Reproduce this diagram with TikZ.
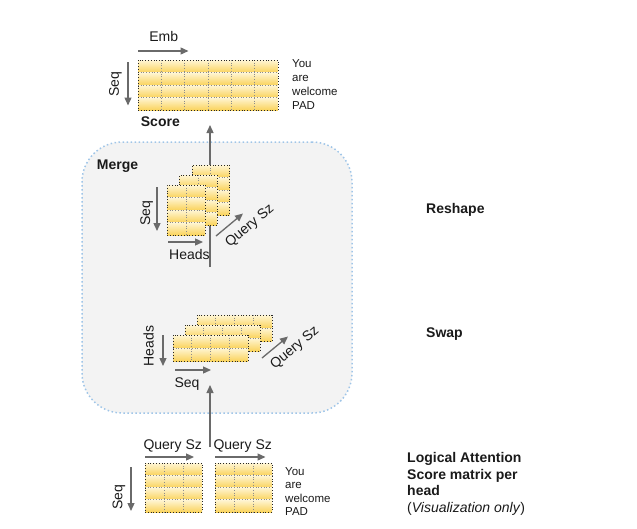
\documentclass[tikz,border=0pt]{standalone}
\usepackage{fontspec}
\setmainfont{Liberation Sans}
\usetikzlibrary{arrows.meta}
\definecolor{cellTop}{HTML}{FFF6D5}
\definecolor{cellBot}{HTML}{FAD35C}
\definecolor{arrowGray}{HTML}{6A6A6A}
\definecolor{mergeFill}{HTML}{F3F3F3}
\definecolor{mergeLine}{HTML}{9FC5E8}
\definecolor{txt}{HTML}{1A1A1A}
\tikzset{
  innerdots/.style={draw=black!45, dotted, line width=0.7pt},
  outerdots/.style={draw=black!85, dotted, line width=0.8pt, inner sep=0pt, outer sep=0pt},
  dimarrow/.style={draw=arrowGray, line width=1.3pt, -{Triangle[length=8pt,width=7pt]}},
  lbl/.style={font=\fontsize{14}{16}\selectfont, text=txt, inner sep=0pt},
  boldlbl/.style={font=\fontsize{14}{16}\selectfont\bfseries, text=txt, inner sep=0pt, anchor=base west},
  smalllbl/.style={font=\fontsize{11.5}{14}\selectfont, text=txt, inner sep=0pt, anchor=base west},
  mergebox/.style={draw=mergeLine, fill=mergeFill, line width=1.5pt, dash pattern=on 1.5pt off 2.5pt, rounded corners=40pt, inner sep=0pt, outer sep=0pt, anchor=north west},
}
\newcommand\mgrid[7]{% name, x, y, cols, rows, cw, rh
  \foreach \i in {1,...,#4}{\foreach \j in {1,...,#5}{
    \shade[top color=cellTop, bottom color=cellBot] ({#2+(\i-1)*#6},{#3+(\j-1)*#7}) rectangle ++(#6,#7);}}
  \pgfmathtruncatemacro\mgc{#4-1}
  \pgfmathtruncatemacro\mgr{#5-1}
  \foreach \i in {1,...,\mgc}{\draw[innerdots] ({#2+\i*#6},#3) -- ++(0,{#5*#7});}
  \foreach \j in {1,...,\mgr}{\draw[innerdots] (#2,{#3+\j*#7}) -- ++({#4*#6},0);}
  \node[outerdots, minimum width={#4*#6}, minimum height={#5*#7}, anchor=north west] (#1) at (#2,#3) {};
}
\begin{document}
\begin{tikzpicture}[x=1pt, y=-1pt]
\useasboundingbox (0,0) rectangle (637,528);

% Merge box
\node[mergebox, minimum width=270, minimum height=271] (merge) at (82,142) {};
\node[boldlbl] (mergelbl) at (96.7,169.3) {Merge};

% vertical connector from merged result to score (behind stacks)
\coordinate (reshapeOut) at (210,267);
\coordinate (scoreIn) at (210,125);
\draw[dimarrow] (reshapeOut) -- (scoreIn);

% ---- Score matrix (top)
\mgrid{score}{138}{60}{6}{4}{23.33}{12.5}
\coordinate (embA) at (138,51);
\coordinate (embB) at (188.5,51);
\draw[dimarrow] (embA) -- (embB);
\node[lbl, anchor=base] (emblbl) at (163.8,41.7) {Emb};
\coordinate (seqTA) at (128,62);
\coordinate (seqTB) at (128,105.5);
\draw[dimarrow] (seqTA) -- (seqTB);
\node[lbl, rotate=90] (seqTlbl) at (115.5,84.5) {Seq};
\node[boldlbl] (scorelbl) at (140.7,126) {Score};
\node[smalllbl] (tTop1) at (292,67.3) {You};
\node[smalllbl] (tTop2) at (292,81.3) {are};
\node[smalllbl] (tTop3) at (292,95.3) {welcome};
\node[smalllbl] (tTop4) at (292,109.3) {PAD};

% ---- Reshape stacks
\mgrid{rsBack}{192}{165}{2}{4}{18.75}{12.5}
\mgrid{rsMid}{179.5}{175}{2}{4}{18.75}{12.5}
\mgrid{rsFront}{167}{185}{2}{4}{19}{12.5}
\coordinate (rsSeqA) at (157,187);
\coordinate (rsSeqB) at (157,231);
\draw[dimarrow] (rsSeqA) -- (rsSeqB);
\node[lbl, rotate=90] (rsSeqlbl) at (146.7,213.3) {Seq};
\coordinate (rsHA) at (168,242);
\coordinate (rsHB) at (203,242);
\draw[dimarrow] (rsHA) -- (rsHB);
\node[lbl, anchor=base west] (rsHlbl) at (169,259.3) {Heads};
\coordinate (rsQA) at (216,236);
\coordinate (rsQB) at (243,213.5);
\draw[dimarrow] (rsQA) -- (rsQB);
\node[lbl, rotate=40] (rsQlbl) at (250,226) {Query Sz};

% ---- Swap stacks
\mgrid{swBack}{197}{315}{4}{2}{18.75}{13}
\mgrid{swMid}{185}{325}{4}{2}{18.75}{13}
\mgrid{swFront}{173}{335}{4}{2}{18.75}{13}
\coordinate (swHA) at (163,335);
\coordinate (swHB) at (163,366);
\draw[dimarrow] (swHA) -- (swHB);
\node[lbl, rotate=90] (swHlbl) at (148.5,346) {Heads};
\coordinate (swSA) at (175,370);
\coordinate (swSB) at (211,370);
\draw[dimarrow] (swSA) -- (swSB);
\node[lbl, anchor=base west] (swSlbl) at (174.3,387.3) {Seq};
\coordinate (swQA) at (262,358);
\coordinate (swQB) at (288,336.5);
\draw[dimarrow] (swQA) -- (swQB);
\node[lbl, rotate=40] (swQlbl) at (295,348) {Query Sz};

% connector from logical matrices into the swap
\coordinate (logicOut) at (210,447);
\coordinate (swapIn) at (210,385);
\draw[dimarrow] (logicOut) -- (swapIn);

% ---- Logical matrices (bottom)
\mgrid{logL}{145}{463}{3}{4}{19}{12.25}
\mgrid{logR}{215}{463}{3}{4}{19}{12.25}
\coordinate (qLA) at (145,457);
\coordinate (qLB) at (194,457);
\draw[dimarrow] (qLA) -- (qLB);
\coordinate (qRA) at (215,457);
\coordinate (qRB) at (265.5,457);
\draw[dimarrow] (qRA) -- (qRB);
\node[lbl, anchor=base west] (qLlbl) at (143.3,449.3) {Query Sz};
\node[lbl, anchor=base west] (qRlbl) at (213.3,449.3) {Query Sz};
\coordinate (bSeqA) at (131,467);
\coordinate (bSeqB) at (131,511);
\draw[dimarrow] (bSeqA) -- (bSeqB);
\node[lbl, rotate=90] (bSeqlbl) at (119,497) {Seq};
\node[smalllbl] (tBot1) at (285,475) {You};
\node[smalllbl] (tBot2) at (285,488.5) {are};
\node[smalllbl] (tBot3) at (285,502) {welcome};
\node[smalllbl] (tBot4) at (285,515.5) {PAD};

% ---- Right-hand captions
\node[boldlbl] (reshapelbl) at (426,213) {Reshape};
\node[boldlbl] (swaplbl) at (426,337) {Swap};
\node[boldlbl] (log1) at (407,462.7) {Logical Attention};
\node[boldlbl] (log2) at (407,479.3) {Score matrix per};
\node[boldlbl] (log3) at (407,495.5) {head};
\node[lbl, anchor=base west] (log4) at (407,512.7) {(\textit{Visualization only})};
\end{tikzpicture}
\end{document}
